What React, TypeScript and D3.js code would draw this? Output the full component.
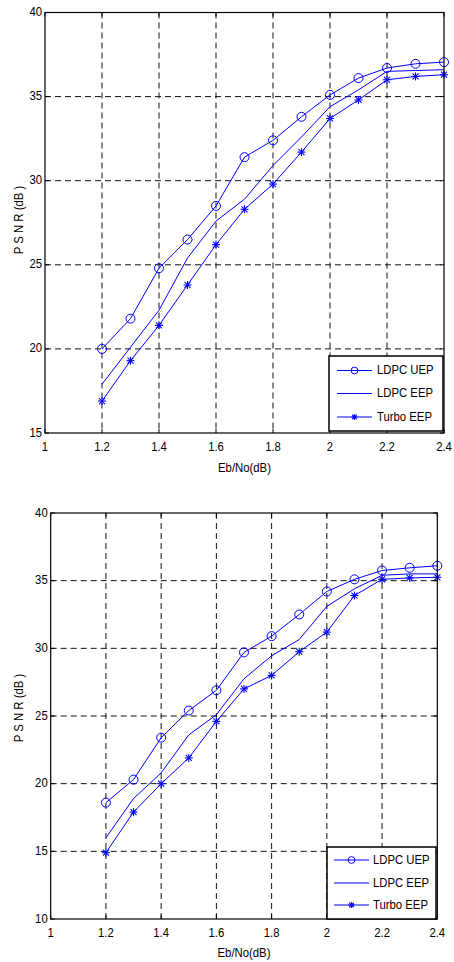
import { scaleLinear, line } from "d3";
import type { ReactNode } from "react";

const ebno = [1.2, 1.3, 1.4, 1.5, 1.6, 1.7, 1.8, 1.9, 2.0, 2.1, 2.2, 2.3, 2.4];
const xTicks = [1, 1.2, 1.4, 1.6, 1.8, 2, 2.2, 2.4];

// upper panel
const uepTop = [20.0, 21.8, 24.8, 26.5, 28.5, 31.4, 32.4, 33.8, 35.1, 36.1, 36.7, 36.95, 37.05];
const eepTop = [17.9, 20.1, 22.3, 25.4, 27.6, 28.9, 30.9, 32.6, 34.4, 35.4, 36.5, 36.55, 36.6];
const turboTop = [16.9, 19.3, 21.4, 23.8, 26.2, 28.3, 29.8, 31.7, 33.7, 34.8, 36.0, 36.2, 36.3];
const yTicksTop = [15, 20, 25, 30, 35, 40];

// lower panel
const uepBottom = [18.6, 20.3, 23.4, 25.4, 26.9, 29.7, 30.9, 32.5, 34.2, 35.1, 35.75, 35.95, 36.1];
const eepBottom = [16.0, 18.9, 20.8, 23.6, 25.1, 27.75, 29.45, 30.65, 33.1, 34.4, 35.4, 35.5, 35.5];
const turboBottom = [14.9, 17.9, 20.0, 21.9, 24.6, 27.0, 28.0, 29.75, 31.2, 33.9, 35.1, 35.2, 35.25];
const yTicksBottom = [10, 15, 20, 25, 30, 35, 40];

const legendLabels = ["LDPC UEP", "LDPC EEP", "Turbo EEP"];

const BLUE = "#0000ff";
const FONT = "'Liberation Sans', Arial, sans-serif";
const NARROW = 0.84; // the original uses a condensed face

type Marker = "o" | "none" | "*";

// condensed text: squeeze horizontally around the anchor point
function Txt({
  x,
  y,
  anchor = "start",
  rotate = 0,
  children,
}: {
  x: number;
  y: number;
  anchor?: "start" | "middle" | "end";
  rotate?: number;
  children: ReactNode;
}) {
  return (
    <text
      transform={`translate(${x}, ${y}) rotate(${rotate}) scale(${NARROW}, 1)`}
      textAnchor={anchor}
      dominantBaseline="middle"
      fill="#000"
    >
      {children}
    </text>
  );
}

function MarkerGlyph({ kind, x, y, size = 1 }: { kind: Marker; x: number; y: number; size?: number }) {
  if (kind === "o") {
    return <circle cx={x} cy={y} r={4.5 * size} fill="none" stroke={BLUE} strokeWidth={1} />;
  }
  if (kind === "*") {
    const s = 4 * size;
    const d = 3 * size;
    return (
      <g stroke={BLUE} strokeWidth={1.1}>
        <line x1={x - s} y1={y} x2={x + s} y2={y} />
        <line x1={x} y1={y - s} x2={x} y2={y + s} />
        <line x1={x - d} y1={y - d} x2={x + d} y2={y + d} />
        <line x1={x - d} y1={y + d} x2={x + d} y2={y - d} />
      </g>
    );
  }
  return null;
}

type PanelProps = {
  box: { left: number; right: number; top: number; bottom: number };
  yTicks: number[];
  series: number[][];
  legend: { x0: number; x1: number; y0: number; y1: number; rows: number[]; lineX0: number; lineX1: number; textX: number };
  yLabelY: number;
  xTickY: number;
  xLabelY: number;
};

function Panel({ box, yTicks, series, legend, yLabelY, xTickY, xLabelY }: PanelProps) {
  const x = scaleLinear().domain([1, 2.4]).range([box.left, box.right]);
  const y = scaleLinear()
    .domain([yTicks[0], yTicks[yTicks.length - 1]])
    .range([box.bottom, box.top]);
  const markers: Marker[] = ["o", "none", "*"];
  const path = line<number>()
    .x((_, i) => x(ebno[i]))
    .y((d) => y(d));

  return (
    <g fontFamily={FONT} fontSize={13.5}>
      <rect x={box.left} y={box.top} width={box.right - box.left} height={box.bottom - box.top} fill="#fff" />
      {/* grid */}
      <g stroke="#111" strokeWidth={1} strokeDasharray="6,4">
        {xTicks.slice(1, -1).map((t) => (
          <line key={"gx" + t} x1={x(t)} x2={x(t)} y1={box.top} y2={box.bottom} />
        ))}
        {yTicks.slice(1, -1).map((t) => (
          <line key={"gy" + t} x1={box.left} x2={box.right} y1={y(t)} y2={y(t)} />
        ))}
      </g>
      {/* series */}
      {series.map((s, k) => (
        <g key={k}>
          <path d={path(s) || ""} fill="none" stroke={BLUE} strokeWidth={1} />
          {s.map((v, i) => (
            <MarkerGlyph key={i} kind={markers[k]} x={x(ebno[i])} y={y(v)} />
          ))}
        </g>
      ))}
      {/* frame */}
      <rect
        x={box.left}
        y={box.top}
        width={box.right - box.left}
        height={box.bottom - box.top}
        fill="none"
        stroke="#000"
        strokeWidth={1.2}
      />
      {/* tick marks */}
      <g stroke="#000" strokeWidth={1}>
        {xTicks.map((t) => (
          <g key={"tx" + t}>
            <line x1={x(t)} x2={x(t)} y1={box.bottom} y2={box.bottom - 4} />
            <line x1={x(t)} x2={x(t)} y1={box.top} y2={box.top + 4} />
          </g>
        ))}
        {yTicks.map((t) => (
          <g key={"ty" + t}>
            <line x1={box.left} x2={box.left + 4} y1={y(t)} y2={y(t)} />
            <line x1={box.right} x2={box.right - 4} y1={y(t)} y2={y(t)} />
          </g>
        ))}
      </g>
      {/* tick labels */}
      {xTicks.map((t) => (
        <Txt key={"lx" + t} x={x(t)} y={xTickY} anchor="middle">
          {t}
        </Txt>
      ))}
      {yTicks.map((t) => (
        <Txt key={"ly" + t} x={box.left - 3} y={y(t)} anchor="end">
          {t}
        </Txt>
      ))}
      <Txt x={(box.left + box.right) / 2} y={xLabelY} anchor="middle">
        Eb/No(dB)
      </Txt>
      <Txt x={19} y={yLabelY} anchor="middle" rotate={-90}>
        P S N R (dB )
      </Txt>
      {/* legend */}
      <rect
        x={legend.x0}
        y={legend.y0}
        width={legend.x1 - legend.x0}
        height={legend.y1 - legend.y0}
        fill="#fff"
        stroke="#000"
        strokeWidth={1.5}
      />
      {legendLabels.map((lab, k) => (
        <g key={lab}>
          <line x1={legend.lineX0} x2={legend.lineX1} y1={legend.rows[k]} y2={legend.rows[k]} stroke={BLUE} strokeWidth={1} />
          <MarkerGlyph kind={markers[k]} x={(legend.lineX0 + legend.lineX1) / 2} y={legend.rows[k]} size={0.75} />
          <Txt x={legend.textX} y={legend.rows[k]}>
            {lab}
          </Txt>
        </g>
      ))}
    </g>
  );
}

export default function App() {
  return (
    <svg
      width={454}
      height={962}
      viewBox="0 0 454 962"
      style={{ position: "absolute", left: 0, top: 0, background: "#fff" }}
    >
      <rect width={454} height={962} fill="#fff" />
      <Panel
        box={{ left: 45, right: 444, top: 12.5, bottom: 433 }}
        yTicks={yTicksTop}
        series={[uepTop, eepTop, turboTop]}
        legend={{ x0: 329, x1: 443, y0: 356, y1: 431, rows: [370.5, 393.5, 417], lineX0: 337, lineX1: 372, textX: 377 }}
        yLabelY={220}
        xTickY={447}
        xLabelY={468}
      />
      <Panel
        box={{ left: 50.7, right: 437.3, top: 513, bottom: 919 }}
        yTicks={yTicksBottom}
        series={[uepBottom, eepBottom, turboBottom]}
        legend={{ x0: 327, x1: 436, y0: 847, y1: 919, rows: [860, 883, 905], lineX0: 334, lineX1: 369, textX: 373 }}
        yLabelY={708}
        xTickY={933}
        xLabelY={953}
      />
    </svg>
  );
}
